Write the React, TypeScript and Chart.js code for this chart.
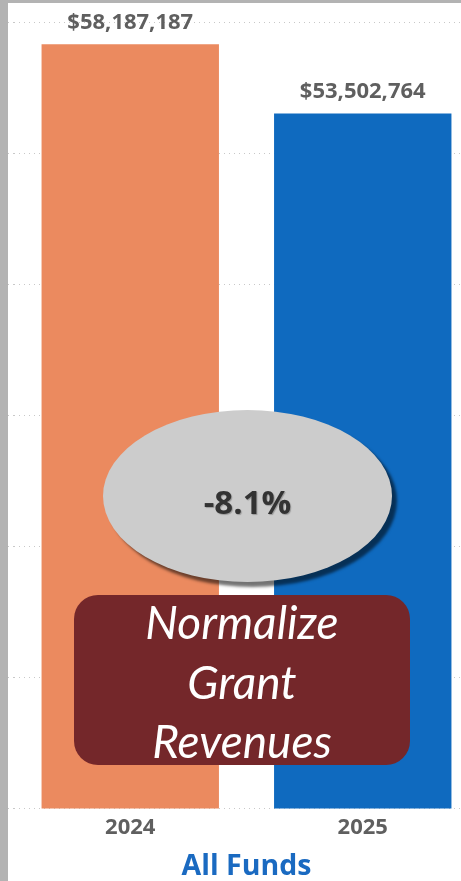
import React, { useEffect, useRef } from 'react';
import { Chart, registerables } from 'chart.js';

Chart.register(...registerables);

// ---- data ----
const categories: string[] = ['2024', '2025'];
const values: number[] = [58187187, 53502764];
const barColors: string[] = ['#EB8A5F', '#0F6ABF'];
const axisTitle = 'All Funds';
const changeLabel = '-8.1%';
const noteLines: string[] = ['Normalize', 'Grant', 'Revenues'];
const Y_MIN = 6400000;
const Y_MAX = 59700000;
const GRID_STEPS = 6;

const LABEL_COLOR = '#5f5f5f';

const valueLabels = {
  id: 'valueLabels',
  afterDatasetsDraw(chart: any) {
    const ctx = chart.ctx;
    const meta = chart.getDatasetMeta(0);
    ctx.save();
    ctx.font = 'bold 22px "Open Sans"';
    ctx.fillStyle = LABEL_COLOR;
    ctx.textAlign = 'center';
    ctx.textBaseline = 'middle';
    meta.data.forEach((bar: any, i: number) => {
      ctx.fillText('$' + values[i].toLocaleString('en-US'), bar.x, bar.y - 21.5);
    });
    ctx.restore();
  },
};

export default function App() {
  const canvasRef = useRef<HTMLCanvasElement | null>(null);

  useEffect(() => {
    if (!canvasRef.current) return;
    const chart = new Chart(canvasRef.current, {
      type: 'bar',
      data: {
        labels: categories,
        datasets: [
          {
            data: values,
            backgroundColor: barColors,
            borderWidth: 0,
            barPercentage: 0.763,
            categoryPercentage: 1,
          },
        ],
      },
      options: {
        responsive: false,
        animation: false,
        devicePixelRatio: 1,
        layout: { padding: { top: 19, left: 0, right: 0, bottom: 0 } },
        plugins: {
          legend: { display: false },
          tooltip: { enabled: false },
        },
        scales: {
          x: {
            grid: { display: false, drawTicks: false },
            border: { display: false },
            ticks: {
              color: LABEL_COLOR,
              font: { family: '"Open Sans"', size: 22, weight: 'bold' },
              padding: 6,
            },
            title: {
              display: true,
              text: axisTitle,
              color: '#1a6ac1',
              font: { family: '"Open Sans"', size: 28.5, weight: 'bold' },
              padding: { top: 3, bottom: 0 },
            },
          },
          y: {
            min: Y_MIN,
            max: Y_MAX,
            afterBuildTicks: (scale: any) => {
              const ticks = [];
              for (let i = 0; i <= GRID_STEPS; i++) {
                ticks.push({ value: Y_MIN + ((Y_MAX - Y_MIN) * i) / GRID_STEPS });
              }
              scale.ticks = ticks;
            },
            ticks: { display: false },
            grid: {
              color: '#c8c8c8',
              lineWidth: 1,
              drawTicks: true,
              tickLength: 6,
              tickBorderDash: [1, 4],
            },
            border: { display: false, dash: [1, 4] },
          },
        },
      },
      plugins: [valueLabels],
    });
    return () => chart.destroy();
  }, []);

  return (
    <div
      style={{
        position: 'absolute',
        left: 0,
        top: 0,
        width: 461,
        height: 881,
        background: '#b3b3b3',
        overflow: 'hidden',
      }}
    >
      <div
        style={{
          position: 'absolute',
          left: 8,
          top: 3,
          width: 453,
          height: 878,
          background: '#ffffff',
          overflow: 'hidden',
        }}
      >
        <canvas
          ref={canvasRef}
          width={471}
          height={881}
          style={{ position: 'absolute', left: 0, top: 0, width: 471, height: 881 }}
        />
        <div
          style={{
            position: 'absolute',
            left: 95,
            top: 407,
            width: 289,
            height: 172,
            borderRadius: '50%',
            background: '#cccccc',
            boxShadow: '5px 5px 3px rgba(0,0,0,0.55)',
            display: 'flex',
            alignItems: 'center',
            justifyContent: 'center',
            boxSizing: 'border-box',
            paddingTop: 10,
            fontFamily: '"Open Sans", sans-serif',
            fontWeight: 700,
            fontSize: 33,
            color: '#333333',
            textShadow: '1px 1px 1px rgba(0,0,0,0.25)',
          }}
        >
          {changeLabel}
        </div>
        <div
          style={{
            position: 'absolute',
            left: 66,
            top: 592,
            width: 336,
            height: 170,
            borderRadius: 24,
            background: '#74272A',
          }}
        />
        <div
          style={{
            position: 'absolute',
            left: 66,
            top: 589,
            width: 336,
            textAlign: 'center',
            fontFamily: 'Lato, sans-serif',
            fontStyle: 'italic',
            fontSize: 46,
            lineHeight: '59.5px',
            color: '#ffffff',
          }}
        >
          {noteLines.map((l) => (
            <div key={l}>{l}</div>
          ))}
        </div>
      </div>
    </div>
  );
}
